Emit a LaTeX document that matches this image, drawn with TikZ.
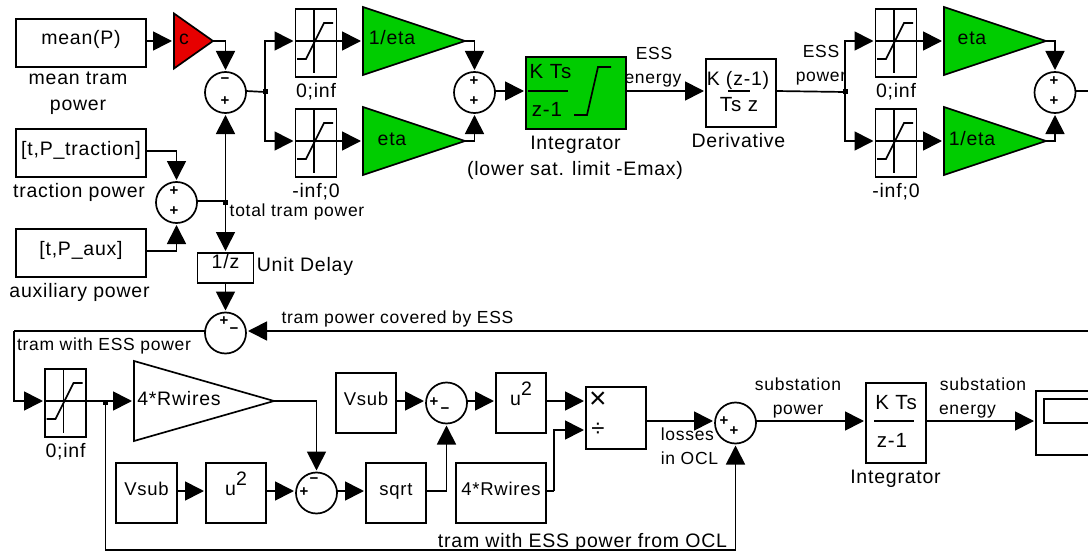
\documentclass[tikz,border=0pt]{standalone}
\usepackage{fontspec}
\setmainfont[LetterSpace=4]{Liberation Sans}
\usetikzlibrary{arrows.meta, calc, shapes.geometric}
\definecolor{gaingreen}{RGB}{0,204,0}
\definecolor{gainred}{RGB}{230,0,0}
\tikzset{
  box/.style={draw, rectangle, fill=white, inner sep=0pt, outer sep=0pt, text height=9pt, text depth=5pt},
  bigbox/.style={box, minimum width=130pt, minimum height=48pt},
  sqbox/.style={box, minimum width=60pt, minimum height=60pt},
  satbox/.style={box, minimum width=41pt, minimum height=68pt},
  gain/.style={draw, isosceles triangle, isosceles triangle stretches, shape border rotate=0, inner sep=0pt, outer sep=0pt, anchor=lower side},
  gainbig/.style={gain, minimum width=68pt, minimum height=102pt, fill=gaingreen},
  sum/.style={draw, circle, fill=white, inner sep=0pt, outer sep=0pt, minimum size=41pt},
  dot/.style={fill=black, rectangle, inner sep=0pt, minimum size=5pt},
  lab/.style={inner sep=0pt, anchor=base},
  sml/.style={font=\fontsize{17.5}{24}\selectfont},
  mid/.style={font=\fontsize{18.5}{24}\selectfont},
  blocktxt/.style={font=\fontsize{20.5}{24}\selectfont},
  sign/.style={inner sep=0pt, font=\fontsize{15}{15}\selectfont\bfseries},
  wire/.style={-, shorten >=0pt},
  hv/.style={to path={-| (\tikztotarget)}},
  vh/.style={to path={|- (\tikztotarget)}}
}
% limiter block with its little curve
\newcommand{\satblock}[3]{
  \node[satbox] (#1) at (#2,#3) {};
  \draw[wire, shift={(#2,#3)}] (-20,-2) -- (20,-2) (-2,-34) -- (-2,30);
  \draw[wire, shift={(#2,#3)}] (-19,16) -- (-10,16) -- (8,-20) -- (17,-20);
}
\begin{document}
\begin{tikzpicture}[x=1pt,y=-1pt,->,>={Triangle[length=19pt,width=19pt]},shorten >=2pt,line width=1.7pt,node distance=49pt,font=\fontsize{19.5}{26}\selectfont]
  \path[use as bounding box, clip] (0,0) rectangle (1088,551);
  % rows the wires run along
  \coordinate (rowa) at (0,41);
  \coordinate (rowb) at (0,91);
  \coordinate (rowc) at (0,141);
  \coordinate (rowd) at (0,331);
  \coordinate (rowe) at (0,401);
  \coordinate (rowf) at (0,421);
  \coordinate (rowg) at (0,491);
  \coordinate (rowh) at (0,430);

  % upper part
  \node[bigbox] (meanP) at (81,43) {mean(P)\hspace{6pt}};
  \node[gain, minimum width=55pt, minimum height=39pt, fill=gainred] (cgain) at (174,41) {};
  \node[lab] (clab) at (184,45) {c};
  \node[sum] (sum1) at (225.5,92.5) {};
  \node[dot] (dotp) at (265,92) {};
  \satblock{sat1}{316}{43}
  \satblock{sat2}{316}{143}
  \node[gainbig] (gain1) at (363,41) {};
  \node[gainbig] (gain2) at (363,141) {};
  \node[lab] (gain1lab) at (392,45) {1/eta};
  \node[lab] (gain2lab) at (392,145) {eta};
  \node[sum] (sum2) at (474.5,92.5) {};
  \node[box, minimum width=100pt, minimum height=72pt, fill=gaingreen] (integ) at (576,93) {};
  \node[box, minimum width=70pt, minimum height=68pt] (deriv) at (741,93) {};
  \node[dot] (dotr) at (845,92) {};
  \satblock{sat3}{896}{43}
  \satblock{sat4}{896}{143}
  \node[gainbig] (gain3) at (944,41) {};
  \node[gainbig] (gain4) at (944,141) {};
  \node[lab] (gain3lab) at (972,45) {eta};
  \node[lab] (gain4lab) at (972,145) {1/eta};
  \node[sum] (sum3) at (1055,92.5) {};
  \coordinate (sum3out) at (1095,91);

  % the power sum and the delay
  \node[bigbox] (trac) at (81,153) {[t,P\_traction]\hspace{10pt}};
  \node[bigbox] (aux) at (81,253) {[t,P\_aux]\hspace{6pt}};
  \node[sum] (sum0) at (176.5,202.5) {};
  \node[dot] (dotq) at (225.5,202.5) {};
  \node[box, minimum width=56pt, minimum height=30pt, text height=5pt, text depth=5pt] (delay) at (225.5,268) {1/z};
  \node[sum] (sum4) at (225.5,333) {};
  \coordinate (coverin) at (1095,331);

  % lower part
  \coordinate (leftup) at (14,331);
  \satblock{sat5}{65.5}{403}
  \node[dot] (dots) at (105.5,402) {};
  \node[gain, minimum width=80pt, minimum height=140pt, fill=white] (gain5) at (134,401) {};
  \node[lab] (gain5lab) at (179,405) {4*Rwires};
  \node[sqbox, minimum width=61pt, mid] (vsub1) at (146.5,493) {Vsub\hspace{5pt}};
  \node[sqbox] (sq1) at (236,493) {u\raisebox{10pt}{2}\hspace{4pt}};
  \node[sum] (sum5) at (316.5,493) {};
  \node[sqbox, mid] (sqrt) at (396,493) {sqrt};
  \node[sqbox, mid] (vsub2) at (366,403) {Vsub\hspace{5pt}};
  \node[sum] (sum7) at (446.5,403) {};
  \node[sqbox, minimum width=50pt] (sq2) at (521,403) {u\raisebox{10pt}{2}\hspace{4pt}};
  \node[sqbox, minimum width=90pt, mid] (rwires) at (501,493) {4*Rwires};
  \coordinate (rwkink) at (554,491);
  \node[box, minimum width=60pt, minimum height=62pt] (prod) at (616,418) {};
  \node[sum] (sum6) at (735.5,423) {};
  \coordinate (ocl) at (735.5,550);
  \node[box, minimum width=60pt, minimum height=80pt] (integb) at (896,423) {};
  \node[box, minimum width=74pt, minimum height=64pt] (scope) at (1073,423) {};
  \node[box, minimum width=56pt, minimum height=24pt] (scopescr) at (1072,411) {};

  % signs
  \node[sign] (s1a) at (225,81) {−};
  \node[sign] (s1b) at (225,101) {+};
  \node[sign] (s2a) at (474,81) {+};
  \node[sign] (s2b) at (474,101) {+};
  \node[sign] (s3a) at (1054,81) {+};
  \node[sign] (s3b) at (1054,101) {+};
  \node[sign] (s0a) at (174,191) {+};
  \node[sign] (s0b) at (174,211) {+};
  \node[sign] (s4a) at (224,321) {+};
  \node[sign] (s4b) at (234,331) {−};
  \node[sign] (s5a) at (304,492) {+};
  \node[sign] (s5b) at (314,481) {−};
  \node[sign] (s7a) at (434,402) {+};
  \node[sign] (s7b) at (445,411) {−};
  \node[sign] (s6a) at (724,421) {+};
  \node[sign] (s6b) at (734,431) {+};
  \node[inner sep=0pt, font=\fontsize{30}{30}\selectfont] (prodx) at (598,400) {×};
  \node[inner sep=0pt, font=\fontsize{24}{24}\selectfont] (proddiv) at (598,430) {÷};

  % text inside the discrete blocks
  \node[lab, blocktxt] (integnum) at (550.5,79) {K Ts};
  \node[lab, blocktxt] (integden) at (547,117) {z-1};
  \draw[wire] (528,91) -- (568,91);
  \draw[wire] (574,115) -- (587,115) -- (598,67) -- (611,67);
  \node[lab] (derivnum) at (738,85) {K (z-1)};
  \node[lab, blocktxt] (derivden) at (739,111) {Ts z};
  \draw[wire] (728,91) -- (750,91);
  \node[lab, blocktxt] (integbnum) at (896,409) {K Ts};
  \node[lab, blocktxt] (integbden) at (892,447) {z-1};
  \draw[wire] (874,421) -- (914,421);

  % labels
  \node[inner sep=0pt, align=center] (meanlab) at (78,93) {mean tram\\power};
  \node[lab] (traclab) at (79,197) {traction power};
  \node[lab] (auxlab) at (79.5,297) {auxiliary power};
  \node[lab, sml] (totallab) at (297,216) {total tram power};
  \node[lab] (delaylab) at (305,271) {Unit Delay};
  \node[inner sep=0pt] (sat1lab) [below of = sat1] {0;inf};
  \node[inner sep=0pt] (sat2lab) [below of = sat2] {-inf;0};
  \node[inner sep=0pt] (sat3lab) [below of = sat3] {0;inf};
  \node[inner sep=0pt] (sat4lab) [below of = sat4] {-inf;0};
  \node[inner sep=0pt] (sat5lab) [below of = sat5] {0;inf};
  \node[lab] (integlab) at (575.5,149) {Integrator};
  \node[lab] (satlab) at (575,175) {(lower sat. limit -Emax)};
  \node[lab, sml] (esslab) at (654,60) {ESS};
  \node[lab, sml] (energylab) at (653,84) {energy};
  \node[lab] (derivlab) at (738.5,147) {Derivative};
  \node[lab, sml] (esslabb) at (821,58) {ESS};
  \node[lab, sml] (powerlab) at (821,82) {power};
  \node[lab, sml] (coverlab) at (397.5,323) {tram power covered by ESS};
  \node[lab, sml] (esspowerlab) at (104,350) {tram with ESS power};
  \node[lab, sml, anchor=base west] (losslab) at (660,440) {losses};
  \node[lab, sml, anchor=base west] (ocllab) at (660,464) {in OCL};
  \node[lab] (fromocllab) at (582.5,547) {tram with ESS power from OCL};
  \node[lab, sml] (subplab) at (798,390) {substation};
  \node[lab, sml] (subplabb) at (798,414) {power};
  \node[lab] (integblab) at (895.5,483) {Integrator};
  \node[lab, sml] (subelab) at (983,390) {substation};
  \node[lab, sml] (subelabb) at (967.5,414) {energy};

  % connectors
  \path
  (meanP.east |- rowa) edge (cgain.lower side)
  (cgain.apex) edge[hv] (sum1.north)
  (sum1.east |- rowb) edge[wire] (dotp.center)
  (dotp.center) edge[vh] (sat1.west |- rowa)
                edge[vh] (sat2.west |- rowc)
  (sat1.east |- rowa) edge (gain1.lower side)
  (sat2.east |- rowc) edge (gain2.lower side)
  (gain1.apex) edge[hv] (sum2.north)
  (gain2.apex) edge[hv] (sum2.south)
  (sum2.east |- rowb) edge (integ.west |- rowb)
  (integ.east |- rowb) edge (deriv.west |- rowb)
  (deriv.east |- rowb) edge[wire] (dotr.center)
  (dotr.center) edge[vh] (sat3.west |- rowa)
                edge[vh] (sat4.west |- rowc)
  (sat3.east |- rowa) edge (gain3.lower side)
  (sat4.east |- rowc) edge (gain4.lower side)
  (gain3.apex) edge[hv] (sum3.north)
  (gain4.apex) edge[hv] (sum3.south)
  (sum3.east |- rowb) edge[wire] (sum3out)
  (trac.east |- 0,151) edge[hv] (sum0.north)
  (aux.east |- 0,251) edge[hv] (sum0.south)
  (sum0.east |- 0,201) edge[wire, hv] (dotq.center)
  (dotq.center) edge (sum1.south)
                edge (delay.north)
  (delay.south) edge (sum4.north)
  (coverin) edge (sum4.east |- rowd)
  (sum4.west |- rowd) edge[wire] (leftup)
  (leftup) edge[vh] (sat5.west |- rowe)
  (sat5.east |- rowe) edge (gain5.lower side)
  (dots.center) edge[wire, vh] (ocl)
  (ocl) edge (sum6.south)
  (gain5.apex) edge[hv] (sum5.north)
  (vsub1.east |- rowg) edge (sq1.west |- rowg)
  (sq1.east |- rowg) edge (sum5.west |- rowg)
  (sum5.east |- rowg) edge (sqrt.west |- rowg)
  (sqrt.east |- rowg) edge[hv] (sum7.south)
  (vsub2.east |- rowe) edge (sum7.west |- rowe)
  (sum7.east |- rowe) edge (sq2.west |- rowe)
  (sq2.east |- rowe) edge (prod.west |- rowe)
  (rwires.east |- rowg) edge[wire] (rwkink)
  (rwkink) edge[vh] (prod.west |- rowh)
  (prod.east |- rowf) edge (sum6.west |- rowf)
  (sum6.east |- rowf) edge (integb.west |- rowf)
  (integb.east |- rowf) edge (scope.west |- rowf)
  ;
\end{tikzpicture}
\end{document}
